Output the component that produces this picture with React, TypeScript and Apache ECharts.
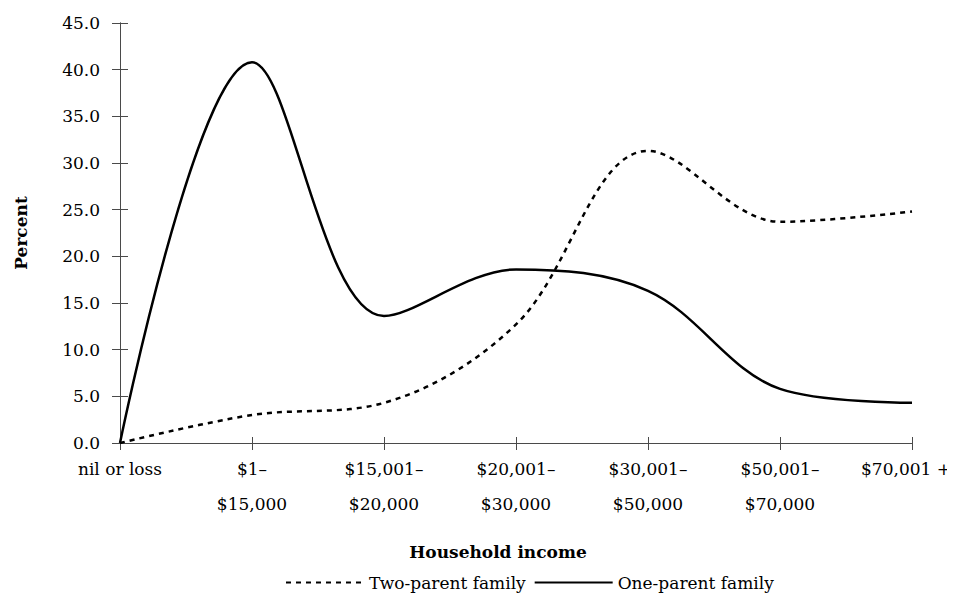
import React, { useEffect, useRef } from "react";
import * as echarts from "echarts";

const categories = [
  "nil or loss",
  "$1–\n$15,000",
  "$15,001–\n$20,000",
  "$20,001–\n$30,000",
  "$30,001–\n$50,000",
  "$50,001–\n$70,000",
  "$70,001 +",
];
const twoParent = [0, 3.0, 4.3, 12.7, 31.3, 23.7, 24.8];
const oneParent = [0, 40.8, 13.6, 18.6, 16.3, 5.8, 4.3];
const yMin = 0;
const yMax = 45;
const yInterval = 5;

const FONT = "DejaVu Serif";

export default function App() {
  const ref = useRef<HTMLDivElement>(null);
  useEffect(() => {
    if (!ref.current) return;
    const chart = echarts.init(ref.current, null, { renderer: "svg" });
    const axisColor = "#4a4a4a";
    const baseX = {
      type: "category" as const,
      data: categories,
      boundaryGap: false,
      axisLine: { show: true, lineStyle: { color: axisColor, width: 1 } },
      splitLine: { show: false },
    };
    const baseY = {
      type: "value" as const,
      min: yMin,
      max: yMax,
      interval: yInterval,
      splitLine: { show: false },
      axisLine: { show: true, lineStyle: { color: axisColor, width: 1 } },
    };
    const lastIndex = categories.length - 1;
    chart.setOption({
      animation: false,
      backgroundColor: "#ffffff",
      grid: {
        left: 120,
        right: 43,
        top: 23,
        bottom: 166,
        containLabel: false,
        outerBoundsMode: "none",
      },
      legend: {
        left: 280,
        top: 569,
        itemWidth: 78,
        itemHeight: 14,
        itemGap: 8,
        itemStyle: { opacity: 0 },
        textStyle: { fontFamily: FONT, fontSize: 17, color: "#000" },
        data: ["Two-parent family", "One-parent family"],
      },
      xAxis: [
        {
          ...baseX,
          name: "Household income",
          nameLocation: "middle",
          nameGap: 100,
          nameTextStyle: {
            fontFamily: FONT,
            fontSize: 17,
            fontWeight: "bold",
            color: "#000",
            padding: [0, 36, 0, 0],
          },
          axisTick: { show: true, inside: false, length: 7, alignWithLabel: true, lineStyle: { color: axisColor } },
          axisLabel: {
            fontFamily: FONT,
            fontSize: 17,
            color: "#000",
            lineHeight: 35,
            margin: 8,
            interval: 0,
            formatter: (v: string, i: number) => (i === lastIndex ? `{last|${v}}` : v),
            rich: {
              last: {
                fontFamily: FONT,
                fontSize: 17,
                color: "#000",
                lineHeight: 35,
                padding: [0, 12, 0, 0],
              },
            },
          },
        },
        {
          ...baseX,
          position: "bottom",
          axisTick: { show: true, inside: true, length: 6, lineStyle: { color: axisColor } },
          axisLabel: { show: false },
        },
      ],
      yAxis: [
        {
          ...baseY,
          name: "Percent",
          nameLocation: "middle",
          nameGap: 91,
          nameRotate: 90,
          nameTextStyle: { fontFamily: FONT, fontSize: 17, fontWeight: "bold", color: "#000" },
          axisTick: { show: true, inside: false, length: 8, lineStyle: { color: axisColor } },
          axisLabel: {
            fontFamily: FONT,
            fontSize: 17,
            color: "#000",
            margin: 20,
            formatter: (v: number) => v.toFixed(1),
          },
        },
        {
          ...baseY,
          position: "left",
          axisTick: { show: true, inside: true, length: 8, lineStyle: { color: axisColor } },
          axisLabel: { show: false },
        },
      ],
      series: [
        {
          name: "Two-parent family",
          type: "line",
          data: twoParent,
          xAxisIndex: 0,
          yAxisIndex: 0,
          smooth: 0.35,
          symbol: "none",
          lineStyle: { color: "#000", width: 2.5, type: [5, 5] },
          itemStyle: { color: "#000" },
        },
        {
          name: "One-parent family",
          type: "line",
          data: oneParent,
          xAxisIndex: 0,
          yAxisIndex: 0,
          smooth: 0.35,
          symbol: "none",
          lineStyle: { color: "#000", width: 2.5, type: "solid" },
          itemStyle: { color: "#000" },
        },
      ],
    });
    return () => chart.dispose();
  }, []);
  return <div ref={ref} style={{ width: 955, height: 609, margin: -8 }} />;
}
